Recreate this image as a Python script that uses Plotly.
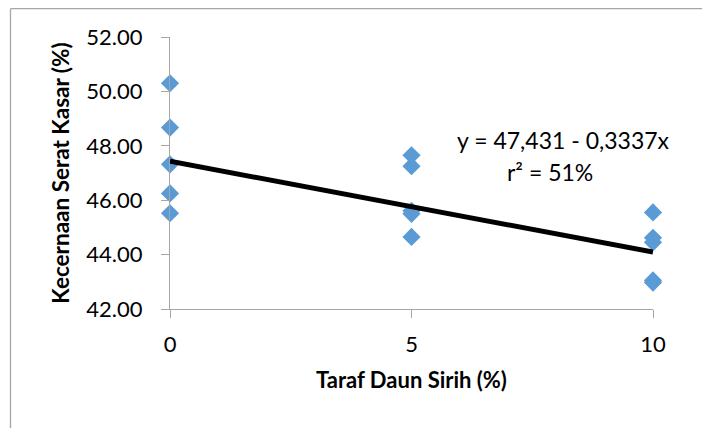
import plotly.graph_objects as go

# Data
taraf = [0, 0, 0, 0, 0, 5, 5, 5, 5, 5, 10, 10, 10, 10, 10]
kecernaan = [50.30, 48.67, 47.32, 46.25, 45.52,
             47.65, 47.25, 45.61, 45.50, 44.65,
             45.55, 44.62, 44.45, 43.05, 42.97]
trend_x = [0, 10]
trend_y = [47.431, 44.094]
x_ticks = [0, 5, 10]
y_ticks = [42, 44, 46, 48, 50, 52]
equation_text = "y = 47,431 - 0,3337x"
r2_text = "r² = 51%"

FONT = "Lato"
W, H = 710, 428
# page body has an 8px margin; positions below are in figure pixels
ML, MT = 162, 29
pw, ph = 483, 272
MR = W - ML - pw
MB = H - MT - ph

def px_to_paper_x(px):
    return (px - ML) / pw

def px_to_paper_y(py):
    return (H - MB - py) / ph

fig = go.Figure()
fig.add_trace(go.Scatter(
    x=taraf, y=kecernaan, mode="markers",
    marker=dict(symbol="diamond", size=14, color="#5B9BD5"),
    showlegend=False, cliponaxis=False))
fig.add_trace(go.Scatter(
    x=trend_x, y=trend_y, mode="lines",
    line=dict(color="#000000", width=5),
    showlegend=False))

axis_common = dict(showgrid=False, zeroline=False, showline=True,
                   linecolor="#A6A6A6", linewidth=1.3, ticks="outside",
                   ticklen=8, tickcolor="#A6A6A6", tickwidth=1.3,
                   tickfont=dict(family=FONT, size=22, color="#000000"))

fig.update_xaxes(range=[0, 10], tickvals=x_ticks, ticklabelstandoff=7,
                 title=dict(text="<b>Taraf Daun Sirih (%)</b>",
                            font=dict(family=FONT, size=22, color="#000000"),
                            standoff=17),
                 **axis_common)
fig.update_yaxes(range=[42, 52], tickvals=y_ticks, tickformat=".2f",
                 ticklabelstandoff=14,
                 title=dict(text="<b>Kecernaan Serat Kasar (%)</b>",
                            font=dict(family=FONT, size=22.5, color="#000000"),
                            standoff=10),
                 **axis_common)

fig.add_annotation(x=8.14, y=48.2, text=equation_text, showarrow=False,
                   font=dict(family=FONT, size=23, color="#000000"))
fig.add_annotation(x=7.87, y=47.04, text=r2_text, showarrow=False,
                   font=dict(family=FONT, size=23, color="#000000"))

# Outer chart frame (partially visible: left and top edges)
fig.add_shape(type="line", xref="paper", yref="paper",
              x0=px_to_paper_x(2.5), x1=px_to_paper_x(2.5),
              y0=px_to_paper_y(0.7), y1=px_to_paper_y(440),
              line=dict(color="#A6A6A6", width=1.3))
fig.add_shape(type="line", xref="paper", yref="paper",
              x0=px_to_paper_x(2.5), x1=px_to_paper_x(720),
              y0=px_to_paper_y(0.7), y1=px_to_paper_y(0.7),
              line=dict(color="#A6A6A6", width=1.3))

fig.update_layout(width=W, height=H,
                  margin=dict(l=ML, r=MR, t=MT, b=MB),
                  paper_bgcolor="white", plot_bgcolor="white",
                  font=dict(family=FONT))

fig.write_html("out.html")
